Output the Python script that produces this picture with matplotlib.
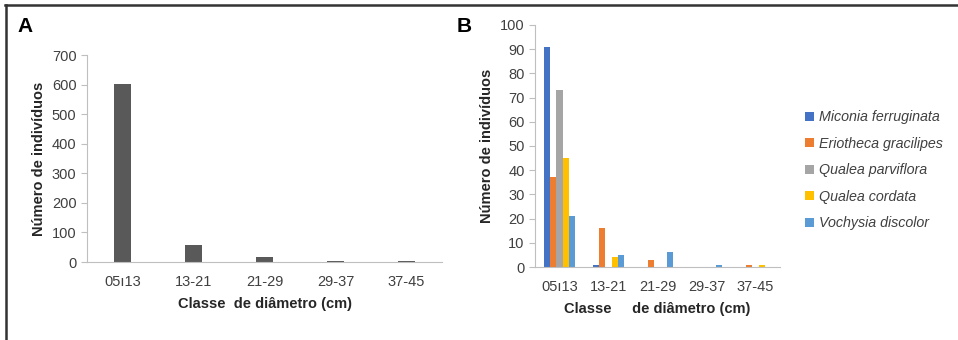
import matplotlib.pyplot as plt
import numpy as np

plt.rcParams['font.family'] = ['Liberation Sans', 'DejaVu Sans']

# data
classes = ["05ı13", "13-21", "21-29", "29-37", "37-45"]
total = [603, 57, 17, 4, 3]

species = ["Miconia ferruginata", "Eriotheca gracilipes", "Qualea parviflora",
           "Qualea cordata", "Vochysia discolor"]
miconia = [91, 1, 0, 0, 0]
eriotheca = [37, 16, 3, 0, 1]
parviflora = [73, 0, 0, 0, 0]
cordata = [45, 4, 0, 0, 1]
vochysia = [21, 5, 6, 1, 0]
colors = ["#4472C4", "#ED7D31", "#A5A5A5", "#FFC000", "#5B9BD5"]

fig = plt.figure(figsize=(9.58, 3.40), dpi=100)

# frame lines (top and left only)
fig.add_artist(plt.Line2D([0.005, 1], [0.985, 0.985], color="#333333", lw=1.8))
fig.add_artist(plt.Line2D([0.006, 0.006], [0, 0.985], color="#333333", lw=1.8))

tick_col = "#404040"
axis_col = "#bfbfbf"


def style(ax):
    for s in ["top", "right"]:
        ax.spines[s].set_visible(False)
    ax.spines["left"].set_color(axis_col)
    ax.spines["bottom"].set_color(axis_col)
    ax.tick_params(axis="y", colors=axis_col, labelcolor=tick_col, labelsize=10.5, length=4)
    ax.tick_params(axis="x", length=0, labelcolor=tick_col, labelsize=10.5, pad=9)


# plot A
ax1 = fig.add_axes([0.0908, 0.2294, 0.3706, 0.6088])
x = np.arange(len(classes))
ax1.bar(x, total, width=0.25, color="#595959")
ax1.set_xlim(-0.5, 4.5)
ax1.set_ylim(0, 700)
ax1.set_yticks(range(0, 701, 100))
ax1.set_xticks(x)
ax1.set_xticklabels(classes)
style(ax1)
ax1.set_ylabel("Número de indivíduos", fontsize=10.5, fontweight="bold", color="#262626")
ax1.set_xlabel("Classe  de diâmetro (cm)", fontsize=10.5, fontweight="bold", color="#262626", labelpad=6)
fig.text(0.018, 0.905, "A", fontsize=15, fontweight="bold")

# plot B
ax2 = fig.add_axes([0.5585, 0.2147, 0.2557, 0.7118])
series = [miconia, eriotheca, parviflora, cordata, vochysia]
w = 0.13
for i, (vals, name, c) in enumerate(zip(series, species, colors)):
    ax2.bar(x + (i - 2) * w, vals, width=w, color=c, label=name)
ax2.set_xlim(-0.5, 4.5)
ax2.set_ylim(0, 100)
ax2.set_yticks(range(0, 101, 10))
ax2.set_xticks(x)
ax2.set_xticklabels(classes)
style(ax2)
ax2.set_ylabel("Número de indivíduos", fontsize=10.5, fontweight="bold", color="#262626")
ax2.set_xlabel("Classe     de diâmetro (cm)", fontsize=10.5, fontweight="bold", color="#262626", labelpad=6)
fig.text(0.477, 0.905, "B", fontsize=15, fontweight="bold")

leg = ax2.legend(loc="center left", bbox_to_anchor=(1.05, 0.40), frameon=False,
                 handlelength=0.6, handleheight=0.6, handletextpad=0.4,
                 labelspacing=0.87, prop={"style": "italic", "size": 10.3})
for t in leg.get_texts():
    t.set_color("#404040")

fig.savefig("out.png", dpi=100)
